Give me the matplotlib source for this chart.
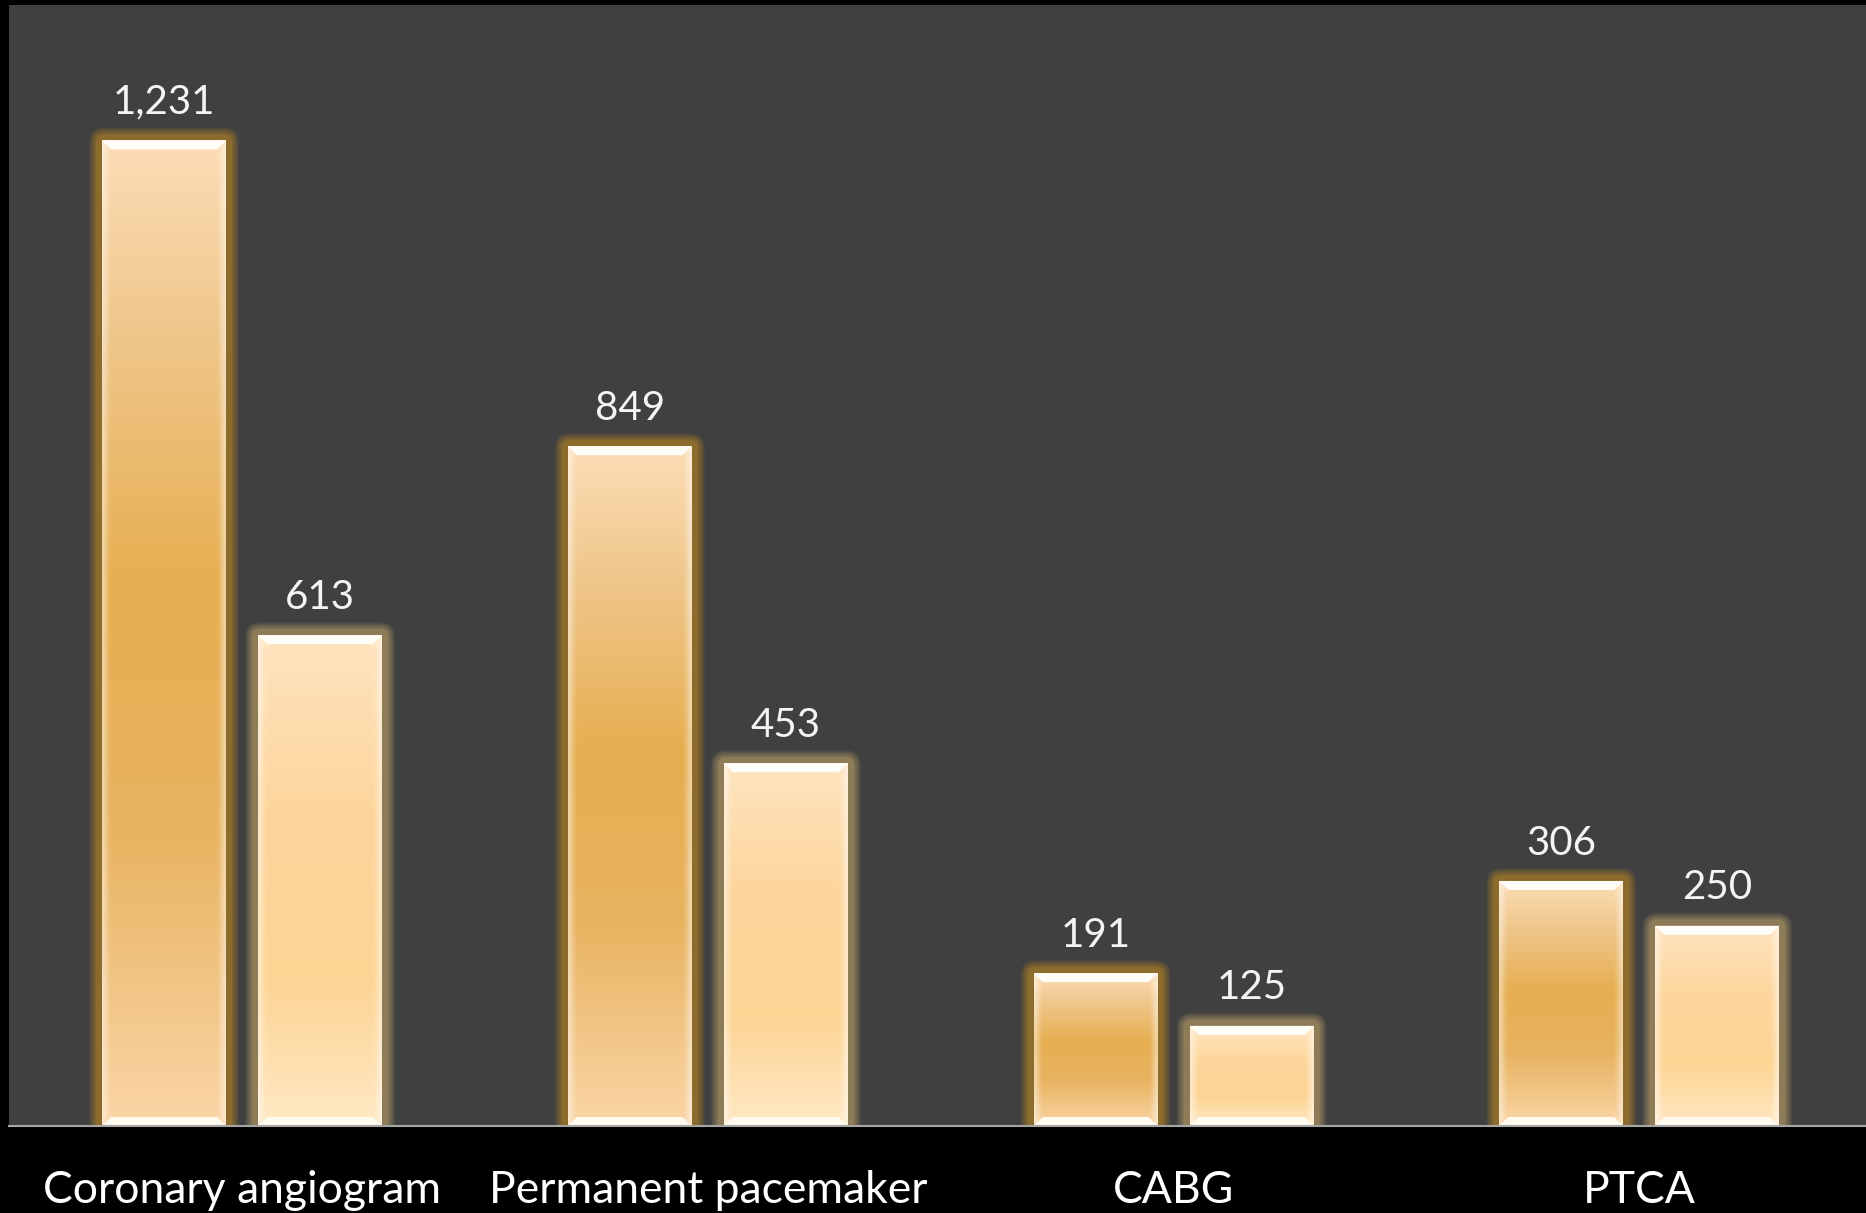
import numpy as np
import matplotlib
matplotlib.use("Agg")
import matplotlib.pyplot as plt
from matplotlib.patches import Rectangle, Polygon, FancyBboxPatch
from matplotlib.transforms import IdentityTransform
from matplotlib.colors import to_rgb

categories = ["Coronary angiogram", "Permanent pacemaker", "CABG", "PTCA"]
series_a = [1231, 849, 191, 306]
series_b = [613, 453, 125, 250]
value_labels_a = ["1,231", "849", "191", "306"]
value_labels_b = ["613", "453", "125", "250"]

W, H = 1866, 1213
fig = plt.figure(figsize=(W / 100, H / 100), dpi=100, facecolor="black")
ax = fig.add_axes([9.2 / W, (H - 1126) / H, 1863 / W, (1126 - 5) / H])
ax.set_facecolor("#404040")
ax.set_xlim(-0.5, len(categories) - 0.5)
ax.set_ylim(0, 1400)

bar_w = 0.266
offset = 0.1675

px_x = ax.get_position().width * W / 4.0      # px per x unit
px_y = ax.get_position().height * H / 1400.0  # px per y unit

def grad_stops(stops, n):
    pos = np.array([s[0] for s in stops])
    cols = np.array([to_rgb(s[1]) for s in stops])
    t = np.linspace(0, 1, n)
    return np.stack([np.interp(t, pos, cols[:, k]) for k in range(3)], axis=1)

# top -> bottom stops
stops_a = [(0, "#FCDDB6"), (0.2, "#EFC68A"), (0.45, "#E6AE50"), (0.7, "#E8B360"), (1.0, "#FAD5A6")]
stops_b = [(0, "#FEE4BF"), (0.35, "#FDD69D"), (0.7, "#FDD494"), (1.0, "#FFE8C4")]

def draw_bar(xc, val, stops, glow_col):
    x0, x1 = xc - bar_w / 2, xc + bar_w / 2
    # glow (built in pixel space from the data transform)
    (dx0, dy0), (dx1, dy1) = ax.transData.transform([(x0, 0), (x1, val)])
    layers = [(p, 0.07) for p in range(13, 6, -1)] + [(6, 0.15)]
    for pad, al in layers:
        g = FancyBboxPatch((dx0, dy0 - 20), dx1 - dx0, dy1 - dy0 + 20,
                           boxstyle="round,pad=%g,rounding_size=%g" % (pad, pad + 2),
                           facecolor=glow_col, edgecolor="none", alpha=al,
                           transform=IdentityTransform(), zorder=2)
        ax.add_patch(g)
    # gradient body
    n = 200
    col = grad_stops(stops, n)
    m = 60
    img = np.repeat(col[:, None, :], m, axis=1)
    u = np.linspace(0, 1, m)
    edge = np.clip(1 - np.minimum(u, 1 - u) / 0.06, 0, 1) * 0.45
    img = img + (1 - img) * edge[None, :, None]
    rect = Rectangle((x0, 0), bar_w, val, facecolor="none", edgecolor="none")
    ax.add_patch(rect)
    im = ax.imshow(img, extent=(x0, x1, 0, val), origin="upper",
                   aspect="auto", zorder=3, interpolation="bilinear")
    im.set_clip_path(rect)
    # bevels
    h = min(9 / px_y, val / 4)
    d = 9 / px_x
    ax.add_patch(Polygon([(x0, val), (x1, val), (x1 - d, val - h), (x0 + d, val - h)],
                         closed=True, facecolor="#FFFDF8", edgecolor="none", zorder=4))
    ax.add_patch(Polygon([(x0, 0), (x1, 0), (x1 - d, h), (x0 + d, h)],
                         closed=True, facecolor="#FFFAEE", edgecolor="none", zorder=4))

for i, (a, b) in enumerate(zip(series_a, series_b)):
    draw_bar(i - offset, a, stops_a, "#E0A020")
    draw_bar(i + offset, b, stops_b, "#E5C17A")
    ax.annotate(value_labels_a[i], (i - offset, a), xytext=(0, 14), textcoords="offset points",
                ha="center", va="bottom", color="#F4F4F4", fontsize=29, family="Lato", zorder=5)
    ax.annotate(value_labels_b[i], (i + offset, b), xytext=(0, 14), textcoords="offset points",
                ha="center", va="bottom", color="#F4F4F4", fontsize=29, family="Lato", zorder=5)

ax.set_xticks(range(len(categories)))
ax.set_xticklabels(categories, fontsize=32, color="white", family="Lato")
ax.tick_params(axis="x", length=0, pad=32)
ax.set_yticks([])
for s in ["top", "left", "right"]:
    ax.spines[s].set_visible(False)
ax.spines["bottom"].set_color("#A6A6A6")
ax.spines["bottom"].set_linewidth(1.5)
ax.spines["bottom"].set_zorder(6)

fig.savefig("out.png", dpi=100, facecolor="black")
